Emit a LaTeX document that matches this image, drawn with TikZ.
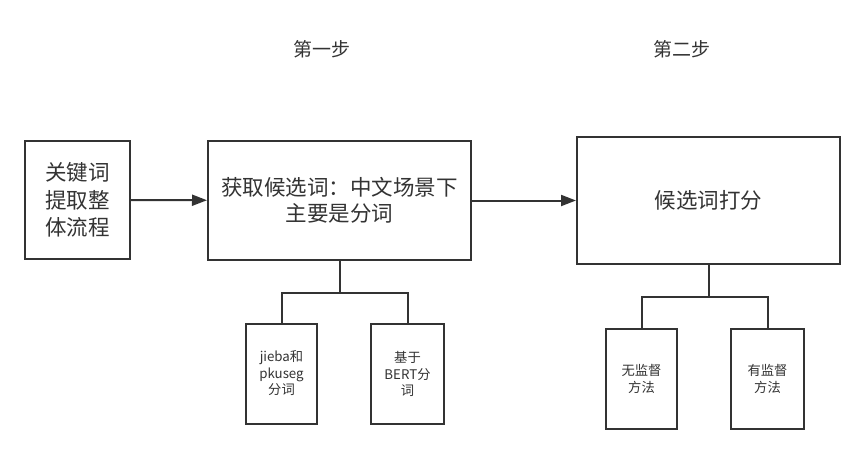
\documentclass[tikz,border=0pt]{standalone}
\usepackage{fontspec}
\setmainfont{Noto Sans CJK SC}
\usetikzlibrary{arrows.meta}
\definecolor{ink}{HTML}{333333}

\begin{document}
\begin{tikzpicture}[x=1pt,y=-1pt,>={Triangle[length=15pt,width=11pt]},
  line width=2pt,draw=ink,text=ink,
  bigbox/.style={draw,fill=white,align=center,inner sep=0pt,
    font=\fontsize{21.5}{26}\selectfont},
  smallbox/.style={draw,fill=white,align=center,inner sep=0pt,
    minimum width=71pt,minimum height=100pt,
    font=\fontsize{13.3}{16.5}\selectfont},
  steplabel/.style={font=\fontsize{19}{22}\selectfont}]
  \useasboundingbox (0,0) rectangle (865,455);
  % main row
  \node[bigbox,minimum width=105pt,minimum height=118pt,
    font=\fontsize{21.5}{27.5}\selectfont] (flow) at (77.5,200)
    {关键词\\提取整\\体流程};
  \node[bigbox,minimum width=263pt,minimum height=119pt] (cand) at (339.5,200.5)
    {获取候选词：中文场景下\\主要是分词};
  \node[bigbox,minimum width=263pt,minimum height=127pt] (score) at (708.5,200.5)
    {候选词打分};
  \node[steplabel] (step1) at (322,49) {第一步};
  \node[steplabel] (step2) at (682,49) {第二步};
  % sub boxes
  \node[smallbox] (jieba) at (281.5,373.5) {jieba和\\pkuseg\\分词};
  \node[smallbox,minimum width=73pt] (bert) at (407.5,374) {基于\\BERT分\\词};
  \node[smallbox] (unsup) at (641.5,379) {无监督\\方法};
  \node[smallbox,minimum width=73pt] (sup) at (767.5,379) {有监督\\方法};
  % connectors
  \draw[->] (flow) -- (cand);
  \draw[->] (cand) -- (score);
  \draw (cand.south) -- ++(0,32) -| (jieba.north);
  \draw (cand.south) -- ++(0,32) -| (bert.north);
  \draw (score.south) -- ++(0,32) -| (unsup.north);
  \draw (score.south) -- ++(0,32) -| (sup.north);
\end{tikzpicture}
\end{document}
